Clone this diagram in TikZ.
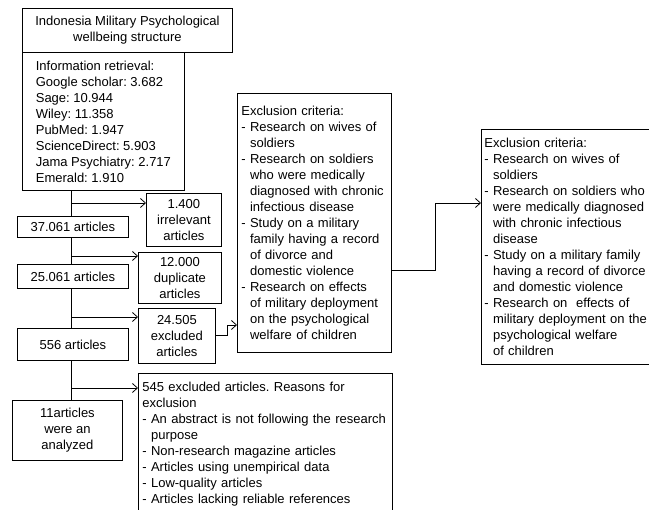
\documentclass[tikz,border=0pt]{standalone}
\usepackage{fontspec}
\setmainfont{Liberation Sans}
\usepackage{tikz}
\usetikzlibrary{arrows.meta}
\newcommand{\cont}{\hphantom{- }}
\frenchspacing

\begin{document}
\begin{tikzpicture}[>={Straight Barb[length=5pt,width=9pt]},x=1pt,y=-1pt,
                    line width=0.8pt,font=\fontsize{13}{16}\selectfont]
\tikzstyle{box}=[draw,fill=white,anchor=north west,align=center,inner sep=0pt]
\tikzstyle{list}=[draw,fill=white,anchor=north west,align=left]
\useasboundingbox (0,0) rectangle (649,510);
\clip (0,0) rectangle (649,510);

\node[box,minimum width=210pt,minimum height=44pt] (TITLE) at (22,8)
  {Indonesia Military Psychological\\wellbeing structure};
\node[list,inner xsep=0pt,minimum width=162pt,minimum height=138pt] (INFO) at (22,52)
  {Information retrieval:\\Google scholar: 3.682\\Sage: 10.944\\Wiley: 11.358\\
   PubMed: 1.947\\ScienceDirect: 5.903\\Jama Psychiatry: 2.717\\Emerald: 1.910};
\node[box,minimum width=75pt,minimum height=53pt] (IRR) at (146,193) {1.400\\irrelevant\\articles};
\node[box,minimum width=111pt,minimum height=21pt] (N37) at (17,216) {37.061 articles};
\node[box,minimum width=83pt,minimum height=51pt] (DUP) at (138,252) {12.000\\duplicate\\articles};
\node[box,minimum width=111pt,minimum height=24pt] (N25) at (17,264) {25.061 articles};
\node[box,minimum width=77pt,minimum height=55pt] (EXC) at (138,308) {24.505\\excluded\\articles};
\node[box,minimum width=111pt,minimum height=32pt] (N556) at (17,328) {556 articles};
\node[box,minimum width=110pt,minimum height=60pt] (N11) at (12,400) {11articles\\were an\\analyzed};

\node[list,text width=146pt,inner xsep=4pt,minimum height=259pt] (CRIT1) at (237,93)
  {Exclusion criteria:\\- Research on wives of\\\cont soldiers\\
   - Research on soldiers\\\cont who were medically\\\cont diagnosed with chronic\\
   \cont infectious disease\\- Study on a military\\\cont family having a record\\
   \cont of divorce and\\\cont domestic violence\\- Research on effects\\
   \cont of military deployment\\\cont on the psychological\\\cont welfare of children};
\node[list,text width=194pt,inner xsep=3pt,minimum height=235pt] (CRIT2) at (481,129)
  {Exclusion criteria:\\- Research on wives of\\\cont soldiers\\
   - Research on soldiers who\\\cont were medically diagnosed\\\cont with chronic infectious\\
   \cont disease\\- Study on a military family\\\cont having a record of divorce\\
   \cont and domestic violence\\- Research on\ \ effects of\\\cont military deployment on the\\
   \cont psychological welfare\\\cont of children};
\node[list,text width=246pt,inner xsep=4pt,inner ysep=9pt] (REAS) at (138,373)
  {545 excluded articles. Reasons for\\exclusion\\
   - An abstract is not following the research\\\cont purpose\\
   - Non-research magazine articles\\- Articles using unempirical data\\
   - Low-quality articles\\- Articles lacking reliable references};

% trunk and branches
\coordinate (TK) at (71,0);
\coordinate (B1) at (71,203);
\coordinate (B2) at (71,256);
\coordinate (B3) at (71,317);
\coordinate (B4) at (71,388);
\draw (INFO.south -| TK) -- (N37.north -| TK);
\draw (N37.south -| TK) -- (N25.north -| TK);
\draw (N25.south -| TK) -- (N556.north -| TK);
\draw (N556.south -| TK) -- (N11.north -| TK);
\draw[->] (B1) -- (B1 -| IRR.west);
\draw[->] (B2) -- (B2 -| DUP.west);
\draw[->] (B3) -- (B3 -| EXC.west);
\draw[->] (B4) -- (B4 -| REAS.west);

% elbows
\coordinate (E0) at (0,335);
\coordinate (E1) at (227,325);
\coordinate (E2) at (435,203);
\coordinate (E3) at (0,270);
\draw[->] (EXC.east |- E0) -| (E1) -- (E1 -| CRIT1.west);
\draw[->] (CRIT1.east |- E3) -| (E2) -- (E2 -| CRIT2.west);
\end{tikzpicture}
\end{document}
